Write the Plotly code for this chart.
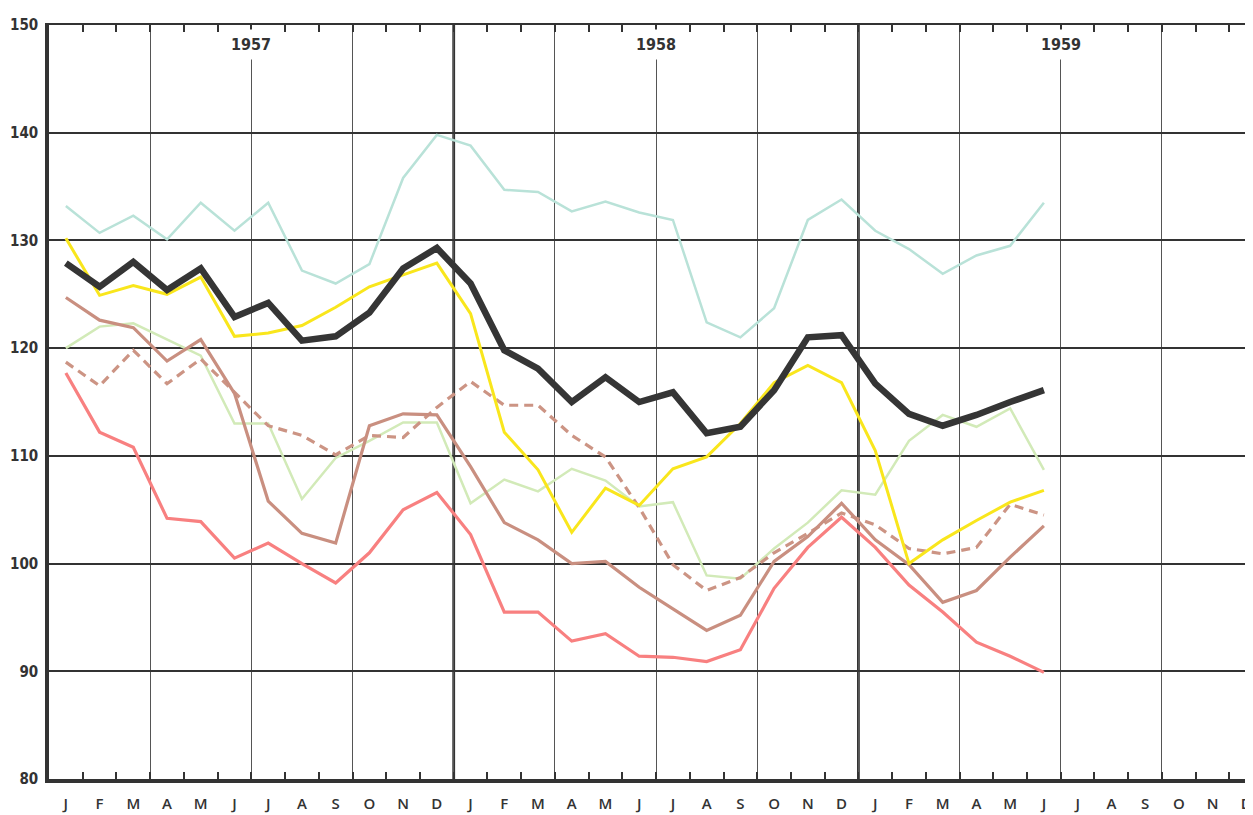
import plotly.graph_objects as go

years = ["1957", "1958", "1959"]
month_letters = ["J", "F", "M", "A", "M", "J", "J", "A", "S", "O", "N", "D"]

black = [127.9, 125.7, 128.0, 125.4, 127.4, 122.9, 124.2, 120.7, 121.1, 123.3, 127.4, 129.3,
         126.0, 119.8, 118.1, 115.0, 117.3, 115.0, 115.9, 112.1, 112.7, 116.1, 121.0, 121.2,
         116.7, 113.9, 112.8, 113.8, 115.0, 116.1]
yellow = [130.2, 124.9, 125.8, 125.0, 126.6, 121.1, 121.4, 122.1, 123.8, 125.7, 126.8, 127.9,
          123.2, 112.2, 108.7, 102.9, 107.0, 105.4, 108.8, 109.9, 113.0, 116.8, 118.4, 116.8,
          110.5, 100.0, 102.2, 104.0, 105.7, 106.8]
teal = [133.2, 130.7, 132.3, 130.1, 133.5, 130.9, 133.5, 127.2, 126.0, 127.8, 135.8, 139.8,
        138.8, 134.7, 134.5, 132.7, 133.6, 132.6, 131.9, 122.4, 121.0, 123.7, 131.9, 133.8,
        130.9, 129.2, 126.9, 128.6, 129.5, 133.5]
green = [120.0, 122.0, 122.3, 120.8, 119.3, 113.0, 113.0, 106.0, 109.8, 111.4, 113.1, 113.1,
         105.6, 107.8, 106.7, 108.8, 107.7, 105.3, 105.7, 98.9, 98.6, 101.4, 103.8, 106.8,
         106.4, 111.4, 113.8, 112.7, 114.4, 108.7]
brown = [124.7, 122.6, 121.9, 118.8, 120.8, 115.8, 105.8, 102.8, 101.9, 112.8, 113.9, 113.8,
         109.0, 103.8, 102.2, 100.0, 100.2, 97.8, 95.8, 93.8, 95.2, 100.2, 102.5, 105.6,
         102.2, 99.9, 96.4, 97.5, 100.6, 103.5]
brown_dashed = [118.7, 116.5, 119.8, 116.7, 119.0, 115.9, 112.8, 111.9, 110.1, 111.9, 111.7, 114.5,
                116.9, 114.7, 114.7, 111.9, 109.9, 105.2, 99.9, 97.5, 98.7, 101.0, 102.8, 104.7,
                103.6, 101.4, 100.9, 101.5, 105.5, 104.5]
red = [117.7, 112.2, 110.8, 104.2, 103.9, 100.5, 101.9, 100.0, 98.2, 101.0, 105.0, 106.6,
       102.7, 95.5, 95.5, 92.8, 93.5, 91.4, 91.3, 90.9, 92.0, 97.7, 101.5, 104.3,
       101.5, 98.0, 95.5, 92.7, 91.4, 89.9]

n_months = len(years) * 12
all_letters = month_letters * len(years)

def xs(vals):
    return [i + 0.5 for i in range(len(vals))]

series = [
    (teal, "#b9e2d8", 2.5, "solid"),
    (green, "#d2eab8", 2.5, "solid"),
    (brown_dashed, "#cc9484", 3.2, "9px,6px"),
    (brown, "#c98f80", 3.2, "solid"),
    (red, "#f88080", 3.2, "solid"),
    (yellow, "#f9e61c", 3.0, "solid"),
    (black, "#353535", 6.5, "solid"),
]

fig = go.Figure()
for vals, col, w, dash in series:
    fig.add_trace(go.Scatter(x=xs(vals), y=vals, mode="lines",
                             line=dict(color=col, width=w, dash=dash),
                             showlegend=False, hoverinfo="skip"))

label_font = "DejaVu Sans Condensed, Liberation Sans Narrow, Arial Narrow, sans-serif"
month_font = "Open Sans, DejaVu Sans, sans-serif"
XMAX = 35.7

fig.update_layout(
    width=1245, height=807,
    margin=dict(l=41, r=0, t=17, b=36, autoexpand=False),
    paper_bgcolor="white", plot_bgcolor="white",
    xaxis=dict(range=[0, XMAX], tick0=0, dtick=3, showgrid=True,
               gridcolor="#555555", gridwidth=1,
               ticks="inside", ticklen=7, tickcolor="#333333", tickwidth=1.5,
               minor=dict(dtick=1, tick0=0, ticks="inside", ticklen=7,
                          tickcolor="#333333", tickwidth=1.5, showgrid=False),
               showticklabels=False, showline=True, linecolor="#333333",
               linewidth=3.5, zeroline=False, layer="below traces",
               automargin=False),
    xaxis2=dict(range=[0, XMAX], overlaying="x", side="bottom", anchor="y",
                tickvals=[i + 0.5 for i in range(n_months)], ticktext=all_letters,
                ticks="", showgrid=False, showline=False, zeroline=False,
                tickfont=dict(family=month_font, size=15, color="#333333",
                              weight=600),
                ticklabelstandoff=14, automargin=False),
    xaxis3=dict(range=[0, XMAX], overlaying="x", side="top", anchor="y",
                tickvals=list(range(n_months + 1)), ticks="inside", ticklen=7,
                tickcolor="#333333", tickwidth=1.5, showticklabels=False,
                showgrid=False, showline=True, linecolor="#333333", linewidth=2,
                zeroline=False, automargin=False),
    yaxis=dict(range=[80, 150], dtick=10, showgrid=True, gridcolor="#333333",
               gridwidth=1.6, ticks="", showline=True, linecolor="#333333",
               linewidth=3.5, zeroline=False,
               tickfont=dict(family=label_font, size=15, color="#333333",
                             weight="bold"),
               ticklabelstandoff=4, layer="below traces", automargin=False),
)

# dummy invisible traces so overlay axes render
fig.add_trace(go.Scatter(x=[0], y=[80], xaxis="x2", mode="markers",
                         marker=dict(opacity=0), showlegend=False, hoverinfo="skip"))
fig.add_trace(go.Scatter(x=[0], y=[80], xaxis="x3", mode="markers",
                         marker=dict(opacity=0), showlegend=False, hoverinfo="skip"))

# year boundaries (thick)
for k in range(1, len(years)):
    fig.add_shape(type="line", xref="x", yref="paper", x0=12 * k, x1=12 * k,
                  y0=0, y1=1, line=dict(color="#333333", width=2.8), layer="below")

# year labels
for k, yr in enumerate(years):
    fig.add_annotation(x=12 * k + 6, y=150, xref="x", yref="y", yanchor="top",
                       yshift=-4, text=yr, showarrow=False, bgcolor="white",
                       borderpad=5,
                       font=dict(family=label_font, size=16, color="#333333",
                                 weight="bold"))

fig.write_html("out.html")
